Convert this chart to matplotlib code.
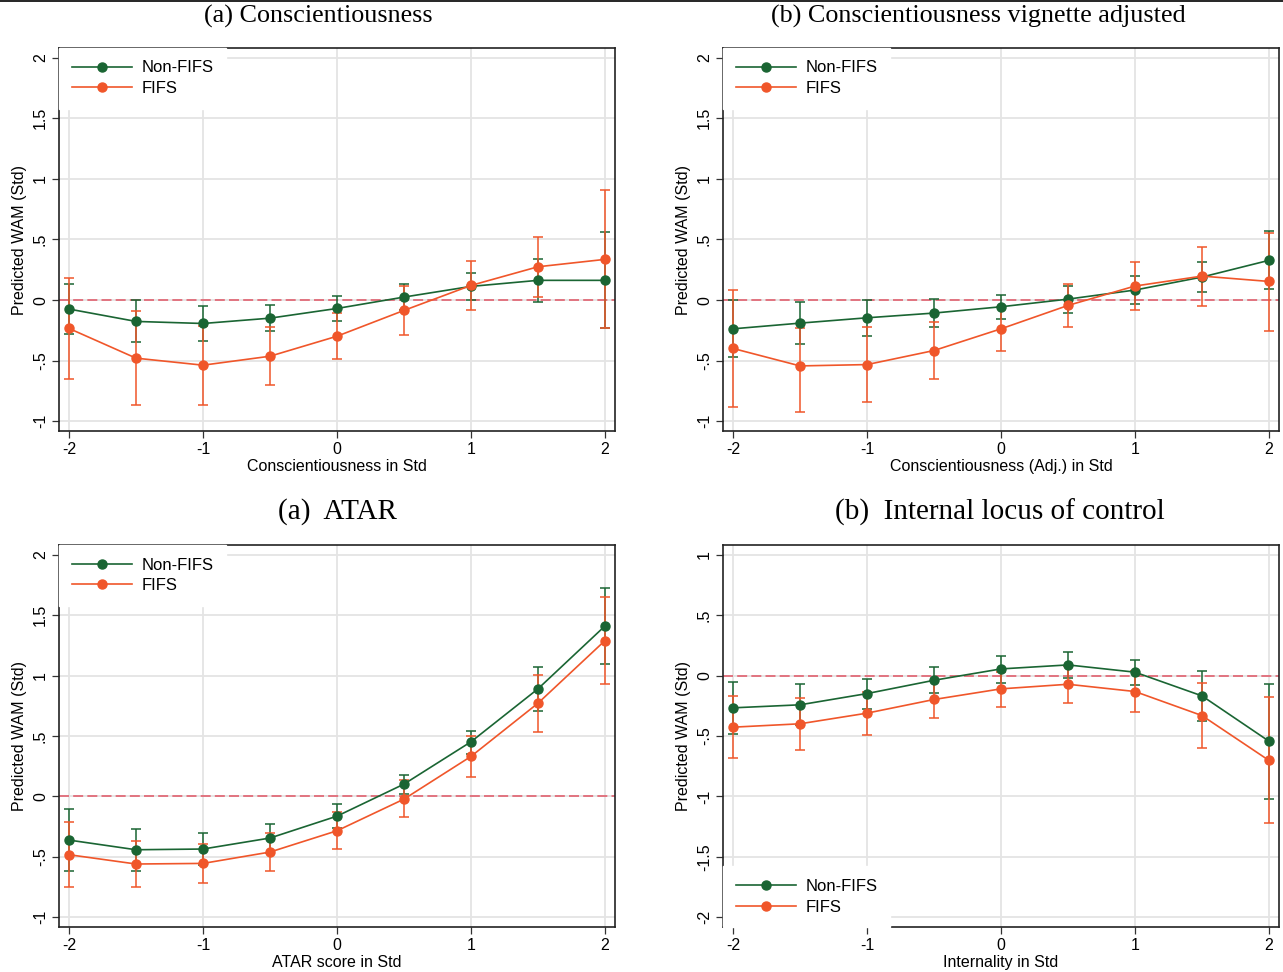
import numpy as np
import matplotlib
matplotlib.use("Agg")
import matplotlib.pyplot as plt

# x grid (std units)
xs = [-2, -1.5, -1, -0.5, 0, 0.5, 1, 1.5, 2]

# (a) Conscientiousness
c_g = [-0.074, -0.176, -0.193, -0.149, -0.069, 0.025, 0.113, 0.163, 0.163]
c_g_lo = [-0.28, -0.347, -0.336, -0.259, -0.174, -0.085, 0.0, -0.014, -0.234]
c_g_hi = [0.135, 0.0, -0.05, -0.039, 0.033, 0.135, 0.223, 0.342, 0.559]
c_o = [-0.234, -0.479, -0.537, -0.463, -0.298, -0.085, 0.121, 0.275, 0.336]
c_o_lo = [-0.65, -0.862, -0.862, -0.697, -0.485, -0.284, -0.083, 0.028, -0.234]
c_o_hi = [0.185, -0.094, -0.212, -0.223, -0.105, 0.113, 0.322, 0.523, 0.906]

# (b) Conscientiousness vignette adjusted
v_g = [-0.237, -0.19, -0.146, -0.107, -0.055, 0.008, 0.083, 0.19, 0.328]
v_g_lo = [-0.471, -0.364, -0.295, -0.223, -0.157, -0.105, -0.03, 0.063, 0.088]
v_g_hi = [0.0, -0.014, 0.0, 0.011, 0.041, 0.113, 0.198, 0.317, 0.570]
v_o = [-0.399, -0.543, -0.532, -0.416, -0.237, -0.044, 0.116, 0.198, 0.154]
v_o_lo = [-0.881, -0.92, -0.837, -0.647, -0.416, -0.218, -0.085, -0.05, -0.251]
v_o_hi = [0.085, -0.229, -0.223, -0.182, -0.058, 0.129, 0.311, 0.441, 0.556]

# (a) ATAR
a_g = [-0.361, -0.441, -0.435, -0.344, -0.163, 0.102, 0.452, 0.890, 1.410]
a_g_lo = [-0.620, -0.614, -0.570, -0.466, -0.262, 0.022, 0.355, 0.708, 1.096]
a_g_hi = [-0.102, -0.267, -0.303, -0.226, -0.066, 0.174, 0.545, 1.069, 1.725]
a_o = [-0.482, -0.559, -0.554, -0.460, -0.284, -0.022, 0.331, 0.771, 1.289]
a_o_lo = [-0.749, -0.752, -0.716, -0.620, -0.438, -0.174, 0.160, 0.529, 0.931]
a_o_hi = [-0.212, -0.366, -0.391, -0.303, -0.129, 0.132, 0.504, 1.008, 1.647]

# (b) Internal locus of control
l_g = [-0.267, -0.242, -0.149, -0.039, 0.055, 0.088, 0.028, -0.168, -0.543]
l_g_lo = [-0.482, -0.413, -0.275, -0.146, -0.058, -0.019, -0.077, -0.377, -1.019]
l_g_hi = [-0.055, -0.072, -0.025, 0.069, 0.165, 0.196, 0.129, 0.039, -0.069]
l_o = [-0.427, -0.399, -0.311, -0.198, -0.110, -0.072, -0.132, -0.331, -0.702]
l_o_lo = [-0.686, -0.614, -0.490, -0.355, -0.259, -0.223, -0.300, -0.598, -1.223]
l_o_hi = [-0.168, -0.185, -0.138, -0.041, 0.033, 0.079, 0.036, -0.061, -0.180]

yt_top = [-1, -0.5, 0, 0.5, 1, 1.5, 2]
yt_top_lab = ["-1", "-.5", "0", ".5", "1", "1.5", "2"]
yt_loc = [-2, -1.5, -1, -0.5, 0, 0.5, 1]
yt_loc_lab = ["-2", "-1.5", "-1", "-.5", "0", ".5", "1"]
xt = [-2, -1, 0, 1, 2]
xt_lab = ["-2", "-1", "0", "1", "2"]

green = "#1a6533"
orange = "#f0562a"
sans = "Liberation Sans"
serif = "Liberation Serif"

W, H = 1283, 972
fig = plt.figure(figsize=(W / 100, H / 100), dpi=100)


def px_axes(l, t, r, b):
    return fig.add_axes([l / W, 1 - b / H, (r - l) / W, (b - t) / H])


def panel(ax, g, glo, ghi, o, olo, ohi, yt, ytl, ylim, xlabel, legloc):
    ax.set_xlim(-2.075, 2.075)
    ax.set_ylim(*ylim)
    ax.set_xticks(xt)
    ax.set_xticklabels(xt_lab, fontsize=11.5, family=sans)
    ax.set_yticks(yt)
    ax.set_yticklabels(ytl, fontsize=11.5, family=sans, rotation=90, va="center")
    ax.grid(True, color="#e4e4e4", linewidth=1.3, zorder=0)
    ax.set_axisbelow(True)
    ax.tick_params(direction="out", length=5, width=0.9, color="#333333", pad=3)
    for s in ax.spines.values():
        s.set_linewidth(1.2)
        s.set_color("#222222")
    ax.axhline(0, color="#e0606e", linewidth=1.2, dashes=(6, 2.5), zorder=2)
    g = np.array(g); o = np.array(o)
    ax.errorbar(xs, g, yerr=[g - np.array(glo), np.array(ghi) - g], fmt="none",
                ecolor=green, elinewidth=1.1, capsize=3.5, capthick=1.1, zorder=3)
    ax.errorbar(xs, o, yerr=[o - np.array(olo), np.array(ohi) - o], fmt="none",
                ecolor=orange, elinewidth=1.1, capsize=3.5, capthick=1.1, zorder=3)
    ax.plot(xs, g, color=green, linewidth=1.2, marker="o", markersize=6.5, label="Non-FIFS", zorder=4)
    ax.plot(xs, o, color=orange, linewidth=1.2, marker="o", markersize=6.5, label="FIFS", zorder=5)
    leg = ax.legend(loc=legloc, frameon=True, fancybox=False, edgecolor="white", framealpha=1,
                    prop={"family": sans, "size": 12}, handlelength=3.6, handletextpad=0.6,
                    labelspacing=0.35, borderaxespad=0.0, borderpad=0.75)
    leg.set_zorder(6)
    ax.set_xlabel(xlabel, fontsize=11.5, family=sans, labelpad=1)
    ax.set_ylabel("Predicted WAM (Std)", fontsize=11.5, family=sans, labelpad=4)


ax1 = px_axes(59, 48, 615, 431)
panel(ax1, c_g, c_g_lo, c_g_hi, c_o, c_o_lo, c_o_hi, yt_top, yt_top_lab, (-1.08, 2.08),
      "Conscientiousness in Std", "upper left")
ax2 = px_axes(723, 48, 1279, 431)
panel(ax2, v_g, v_g_lo, v_g_hi, v_o, v_o_lo, v_o_hi, yt_top, yt_top_lab, (-1.08, 2.08),
      "Conscientiousness (Adj.) in Std", "upper left")
ax3 = px_axes(59, 545, 615, 927)
panel(ax3, a_g, a_g_lo, a_g_hi, a_o, a_o_lo, a_o_hi, yt_top, yt_top_lab, (-1.08, 2.08),
      "ATAR score in Std", "upper left")
ax4 = px_axes(723, 545, 1279, 927)
panel(ax4, l_g, l_g_lo, l_g_hi, l_o, l_o_lo, l_o_hi, yt_loc, yt_loc_lab, (-2.08, 1.08),
      "Internality in Std", "lower left")

fig.text(318 / W, 1 - 16 / H, "(a) Conscientiousness", ha="center", va="center", fontsize=18.8, family=serif)
fig.text(978 / W, 1 - 16 / H, "(b) Conscientiousness vignette adjusted", ha="center", va="center", fontsize=18.8, family=serif)
fig.text(337 / W, 1 - 512 / H, "(a)  ATAR", ha="center", va="center", fontsize=21, family=serif)
fig.text(1000 / W, 1 - 512 / H, "(b)  Internal locus of control", ha="center", va="center", fontsize=21, family=serif)

# page rule at the very top
fig.add_artist(plt.Line2D([0, 1], [1 - 0.8 / H, 1 - 0.8 / H], color="black", linewidth=1.2))

fig.savefig("out.png", dpi=100)
